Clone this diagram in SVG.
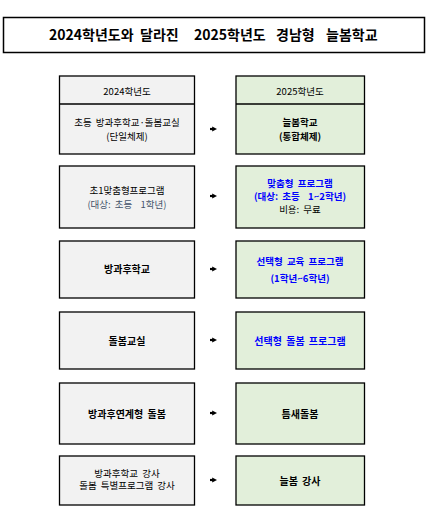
<svg xmlns="http://www.w3.org/2000/svg" width="433" height="529" viewBox="0 0 433 529">
<defs>
<style>
text{font-family:"Noto Sans CJK KR","Noto Sans",sans-serif;font-size:9.5px;fill:#000;text-anchor:middle;dominant-baseline:central;word-spacing:2px}
.b{font-weight:bold}
.s{font-size:10px}
.blue{fill:#0000ff;font-weight:bold}
.gb{fill:#44546a}
.l{fill:#f2f2f2;stroke:#000;stroke-width:1.3}
.r{fill:#e2efda;stroke:#000;stroke-width:1.3}
.title{font-size:14px;font-weight:bold;text-anchor:start;word-spacing:0}
.arr{stroke:#000;stroke-width:2.2;fill:none}
</style>
<marker id="ah" viewBox="0 0 6 6" refX="1" refY="3" markerWidth="5" markerHeight="6.5" orient="auto" markerUnits="userSpaceOnUse">
<path d="M0,0 L6,3 L0,6 Z" fill="#000"/>
</marker>
</defs>
<rect width="433" height="529" fill="#fff"/>
<g id="title">
<rect x="3.5" y="17.5" width="421" height="35" fill="#fff" stroke="#000" stroke-width="1.5"/>
<text class="title" y="34"><tspan x="49">2024학년도와</tspan><tspan x="140">달라진</tspan><tspan x="194">2025학년도</tspan><tspan x="276">경남형</tspan><tspan x="326">늘봄학교</tspan></text>
</g>
<g id="left1">
<rect class="l" x="59.5" y="76" width="135" height="78"/>
<line x1="59.5" y1="104" x2="194.5" y2="104" stroke="#000" stroke-width="1.3"/>
<text x="127" y="90.5">2024학년도</text>
<text x="127" y="121.5">초등 방과후학교·돌봄교실</text>
<text x="127" y="135.5">(단일체제)</text>
</g>
<g id="right1">
<rect class="r" x="236" y="76" width="128.5" height="78"/>
<line x1="236" y1="104" x2="364.5" y2="104" stroke="#000" stroke-width="1.3"/>
<text x="300" y="90.5">2025학년도</text>
<text class="b" x="300" y="121.5">늘봄학교</text>
<text class="b" x="300" y="135.5">(통합체제)</text>
</g>
<g id="left2">
<rect class="l" x="59.5" y="166" width="135" height="62"/>
<text x="127" y="190">초1맞춤형프로그램</text>
<text class="gb" x="127" y="203.5" xml:space="preserve">(대상: 초등  1학년)</text>
</g>
<g id="right2">
<rect class="r" x="236" y="166" width="128.5" height="62"/>
<text class="blue" x="300" y="182.5">맞춤형 프로그램</text>
<text class="blue" x="300" y="195.5" xml:space="preserve">(대상: 초등  1~2학년)</text>
<text x="300" y="208.5">비용: 무료</text>
</g>
<g id="left3">
<rect class="l" x="59.5" y="241" width="135" height="57"/>
<text class="b s" x="127" y="268.5">방과후학교</text>
</g>
<g id="right3">
<rect class="r" x="236" y="241" width="128.5" height="57"/>
<text class="blue" x="300" y="261">선택형 교육 프로그램</text>
<text class="blue" x="300" y="277.5">(1학년~6학년)</text>
</g>
<g id="left4">
<rect class="l" x="59.5" y="312" width="135" height="57"/>
<text class="b s" x="127" y="340">돌봄교실</text>
</g>
<g id="right4">
<rect class="r" x="236" y="312" width="128.5" height="57"/>
<text class="blue s" x="300" y="340">선택형 돌봄 프로그램</text>
</g>
<g id="left5">
<rect class="l" x="59.5" y="383" width="135" height="61"/>
<text class="b s" x="127" y="413">방과후연계형 돌봄</text>
</g>
<g id="right5">
<rect class="r" x="236" y="383" width="128.5" height="61"/>
<text class="b s" x="300" y="413">틈새돌봄</text>
</g>
<g id="left6">
<rect class="l" x="59.5" y="456" width="135" height="49"/>
<text x="127" y="472.5">방과후학교 강사</text>
<text x="127" y="485">돌봄 특별프로그램 강사</text>
</g>
<g id="right6">
<rect class="r" x="236" y="456" width="128.5" height="49"/>
<text class="b s" x="300" y="480">늘봄 강사</text>
</g>
<g id="connectors">
<line class="arr" x1="210" y1="129" x2="213" y2="129" marker-end="url(#ah)"/>
<line class="arr" x1="210" y1="196" x2="213" y2="196" marker-end="url(#ah)"/>
<line class="arr" x1="210" y1="269" x2="213" y2="269" marker-end="url(#ah)"/>
<line class="arr" x1="210" y1="340" x2="213" y2="340" marker-end="url(#ah)"/>
<line class="arr" x1="210" y1="413" x2="213" y2="413" marker-end="url(#ah)"/>
<line class="arr" x1="210" y1="480" x2="213" y2="480" marker-end="url(#ah)"/>
</g>
</svg>
